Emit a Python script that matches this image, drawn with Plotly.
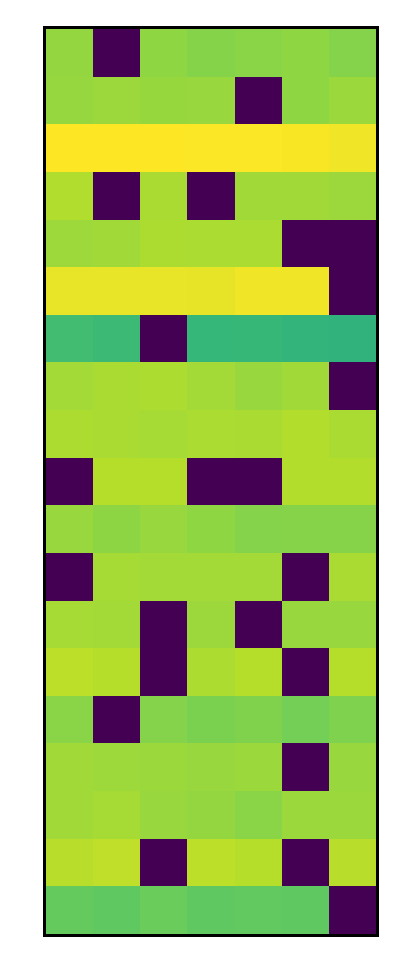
import plotly.graph_objects as go

row_labels = [f"r{i}" for i in range(19)]
col_labels = [f"c{j}" for j in range(7)]

row00 = [0.836, 0.0, 0.830, 0.814, 0.820, 0.830, 0.812]
row01 = [0.840, 0.850, 0.842, 0.843, 0.0, 0.830, 0.848]
row02 = [1.000, 1.000, 1.000, 0.997, 0.997, 0.993, 0.980]
row03 = [0.881, 0.0, 0.870, 0.0, 0.857, 0.857, 0.850]
row04 = [0.852, 0.857, 0.876, 0.872, 0.872, 0.0, 0.0]
row05 = [0.968, 0.968, 0.968, 0.966, 0.980, 0.980, 0.0]
row06 = [0.692, 0.680, 0.0, 0.667, 0.669, 0.654, 0.645]
row07 = [0.860, 0.870, 0.876, 0.860, 0.843, 0.857, 0.0]
row08 = [0.876, 0.870, 0.865, 0.872, 0.870, 0.884, 0.870]
row09 = [0.0, 0.889, 0.889, 0.0, 0.0, 0.885, 0.885]
row10 = [0.843, 0.828, 0.843, 0.830, 0.812, 0.815, 0.815]
row11 = [0.0, 0.865, 0.860, 0.860, 0.860, 0.0, 0.870]
row12 = [0.865, 0.860, 0.0, 0.850, 0.0, 0.843, 0.843]
row13 = [0.900, 0.889, 0.0, 0.876, 0.889, 0.0, 0.889]
row14 = [0.820, 0.0, 0.812, 0.797, 0.806, 0.786, 0.803]
row15 = [0.857, 0.852, 0.848, 0.843, 0.848, 0.0, 0.843]
row16 = [0.857, 0.865, 0.843, 0.836, 0.820, 0.848, 0.848]
row17 = [0.893, 0.906, 0.0, 0.900, 0.889, 0.0, 0.893]
row18 = [0.760, 0.748, 0.770, 0.748, 0.752, 0.748, 0.0]

z = [row00, row01, row02, row03, row04, row05, row06, row07, row08, row09,
     row10, row11, row12, row13, row14, row15, row16, row17, row18]

fig = go.Figure(go.Heatmap(
    z=z,
    colorscale="Viridis",
    zmin=0, zmax=1,
    showscale=False,
    xgap=0, ygap=0,
))

axis_style = dict(showticklabels=False, ticks="", showgrid=False, zeroline=False,
                  showline=True, mirror=True, linecolor="black", linewidth=3)

fig.update_layout(
    width=408, height=980,
    margin=dict(l=46, r=32, t=29, b=46),
    paper_bgcolor="white", plot_bgcolor="white",
    xaxis=dict(range=[-0.5, 6.5], **axis_style),
    yaxis=dict(range=[18.5, -0.5], **axis_style),
)

fig.write_html("out.html")
